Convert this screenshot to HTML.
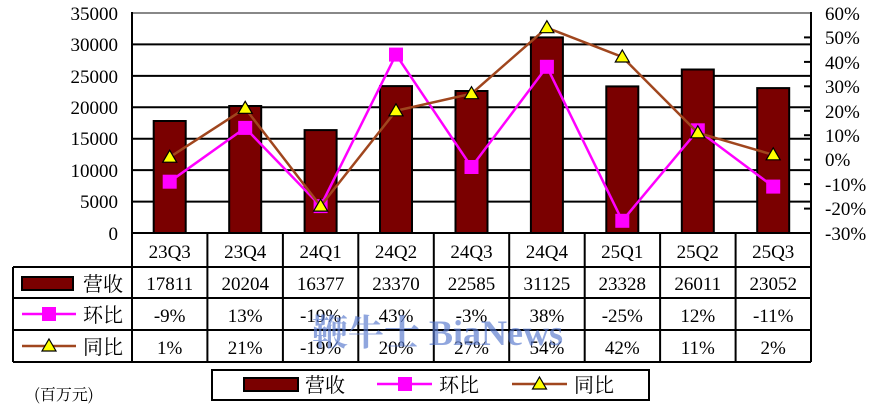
<!DOCTYPE html>
<html><head><meta charset="utf-8"><style>
html,body{margin:0;padding:0;background:#fff;}
svg{display:block;font-family:"Liberation Serif","Noto Serif CJK SC","Noto Sans CJK SC",serif;}
</style></head><body>
<svg width="892" height="416" viewBox="0 0 892 416" xmlns="http://www.w3.org/2000/svg">
<rect width="892" height="416" fill="#fff"/>
<g stroke="#000" stroke-width="2">
<line x1="132" y1="201.6" x2="811" y2="201.6"/>
<line x1="132" y1="170.1" x2="811" y2="170.1"/>
<line x1="132" y1="138.7" x2="811" y2="138.7"/>
<line x1="132" y1="107.3" x2="811" y2="107.3"/>
<line x1="132" y1="75.9" x2="811" y2="75.9"/>
<line x1="132" y1="44.4" x2="811" y2="44.4"/>
</g>
<line x1="132" y1="13" x2="811" y2="13" stroke="#888" stroke-width="2"/>
<g fill="#7a0000" stroke="#000" stroke-width="2">
<rect x="153.7" y="121.0" width="32" height="112"/>
<rect x="229.2" y="106.0" width="32" height="127"/>
<rect x="304.6" y="130.1" width="32" height="102.9"/>
<rect x="380.0" y="86.1" width="32" height="146.9"/>
<rect x="455.5" y="91.0" width="32" height="142"/>
<rect x="530.9" y="37.4" width="32" height="195.6"/>
<rect x="606.3" y="86.4" width="32" height="146.6"/>
<rect x="681.8" y="69.5" width="32" height="163.5"/>
<rect x="757.2" y="88.1" width="32" height="144.9"/>
</g>
<line x1="132" y1="12" x2="132" y2="234" stroke="#000" stroke-width="2"/>
<line x1="811" y1="12" x2="811" y2="234" stroke="#000" stroke-width="2"/>
<g stroke="#000" stroke-width="2">
<line x1="804" y1="37.4" x2="811" y2="37.4"/><line x1="804" y1="61.9" x2="811" y2="61.9"/>
<line x1="804" y1="86.3" x2="811" y2="86.3"/><line x1="804" y1="110.8" x2="811" y2="110.8"/>
<line x1="804" y1="135.2" x2="811" y2="135.2"/><line x1="804" y1="159.7" x2="811" y2="159.7"/>
<line x1="804" y1="184.1" x2="811" y2="184.1"/><line x1="804" y1="208.6" x2="811" y2="208.6"/>
</g>
<polyline fill="none" stroke="#ff00ff" stroke-width="2.5" points="169.7,181.7 245.2,127.9 320.6,206.1 396,54.6 471.5,167 546.9,66.8 622.3,220.8 697.8,130.3 773.2,186.6"/>
<g fill="#ff00ff">
<rect x="162.7" y="174.7" width="14" height="14"/><rect x="238.2" y="120.9" width="14" height="14"/>
<rect x="313.6" y="199.1" width="14" height="14"/><rect x="389" y="47.6" width="14" height="14"/>
<rect x="464.5" y="160" width="14" height="14"/><rect x="539.9" y="59.8" width="14" height="14"/>
<rect x="615.3" y="213.8" width="14" height="14"/><rect x="690.8" y="123.3" width="14" height="14"/>
<rect x="766.2" y="179.6" width="14" height="14"/>
</g>
<polyline fill="none" stroke="#a0461e" stroke-width="2.5" points="169.7,157.2 245.2,108.3 320.6,206.1 396,110.8 471.5,93.7 546.9,27.7 622.3,57 697.8,132.8 773.2,154.8"/>
<g fill="#ffff00" stroke="#000" stroke-width="1.2">
<path d="M169.7,150.2 l7,12 h-14z"/><path d="M245.2,101.3 l7,12 h-14z"/>
<path d="M320.6,199.1 l7,12 h-14z"/><path d="M396,103.8 l7,12 h-14z"/>
<path d="M471.5,86.7 l7,12 h-14z"/><path d="M546.9,20.7 l7,12 h-14z"/>
<path d="M622.3,50 l7,12 h-14z"/><path d="M697.8,125.8 l7,12 h-14z"/>
<path d="M773.2,147.8 l7,12 h-14z"/>
</g>
<g font-size="19" text-anchor="end" fill="#000">
<text x="118" y="20">35000</text><text x="118" y="51">30000</text><text x="118" y="83">25000</text>
<text x="118" y="114">20000</text><text x="118" y="145">15000</text><text x="118" y="177">10000</text>
<text x="118" y="208">5000</text><text x="118" y="240">0</text>
</g>
<g font-size="19" fill="#000">
<text x="825" y="20">60%</text><text x="825" y="44">50%</text><text x="825" y="69">40%</text>
<text x="825" y="93">30%</text><text x="825" y="118">20%</text><text x="825" y="142">10%</text>
<text x="825" y="166">0%</text><text x="825" y="191">-10%</text><text x="825" y="215">-20%</text>
<text x="825" y="240">-30%</text>
</g>
<g stroke="#000" stroke-width="2">
<line x1="132" y1="233" x2="811" y2="233"/>
<line x1="13" y1="267" x2="811" y2="267"/>
<line x1="13" y1="298" x2="811" y2="298"/>
<line x1="13" y1="330" x2="811" y2="330"/>
<line x1="13" y1="362" x2="811" y2="362"/>
<line x1="13" y1="267" x2="13" y2="362"/>
<line x1="132" y1="233" x2="132" y2="362"/>
<line x1="207.4" y1="233" x2="207.4" y2="362"/><line x1="282.9" y1="233" x2="282.9" y2="362"/>
<line x1="358.3" y1="233" x2="358.3" y2="362"/><line x1="433.8" y1="233" x2="433.8" y2="362"/>
<line x1="509.2" y1="233" x2="509.2" y2="362"/><line x1="584.7" y1="233" x2="584.7" y2="362"/>
<line x1="660.1" y1="233" x2="660.1" y2="362"/><line x1="735.6" y1="233" x2="735.6" y2="362"/>
<line x1="811" y1="233" x2="811" y2="362"/>
</g>
<g font-size="19" text-anchor="middle" fill="#000">
<text x="169.7" y="258">23Q3</text><text x="245.2" y="258">23Q4</text><text x="320.6" y="258">24Q1</text><text x="396" y="258">24Q2</text><text x="471.5" y="258">24Q3</text><text x="546.9" y="258">24Q4</text><text x="622.3" y="258">25Q1</text><text x="697.8" y="258">25Q2</text><text x="773.2" y="258">25Q3</text>
<text x="169.7" y="290">17811</text><text x="245.2" y="290">20204</text><text x="320.6" y="290">16377</text><text x="396" y="290">23370</text><text x="471.5" y="290">22585</text><text x="546.9" y="290">31125</text><text x="622.3" y="290">23328</text><text x="697.8" y="290">26011</text><text x="773.2" y="290">23052</text>
<text x="169.7" y="322">-9%</text><text x="245.2" y="322">13%</text><text x="320.6" y="322">-19%</text><text x="396" y="322">43%</text><text x="471.5" y="322">-3%</text><text x="546.9" y="322">38%</text><text x="622.3" y="322">-25%</text><text x="697.8" y="322">12%</text><text x="773.2" y="322">-11%</text>
<text x="169.7" y="354">1%</text><text x="245.2" y="354">21%</text><text x="320.6" y="354">-19%</text><text x="396" y="354">20%</text><text x="471.5" y="354">27%</text><text x="546.9" y="354">54%</text><text x="622.3" y="354">42%</text><text x="697.8" y="354">11%</text><text x="773.2" y="354">2%</text>
</g>
<rect x="22" y="277" width="51" height="13" fill="#7a0000" stroke="#000" stroke-width="2"/>
<line x1="22" y1="314" x2="76" y2="314" stroke="#ff00ff" stroke-width="2.5"/>
<rect x="42" y="307" width="14" height="14" fill="#ff00ff"/>
<line x1="22" y1="346" x2="76" y2="346" stroke="#a0461e" stroke-width="2.5"/>
<path d="M49,339 l7,12 h-14z" fill="#ffff00" stroke="#000" stroke-width="1.2"/>
<g font-size="20" fill="#000" font-family="'Noto Serif CJK SC','Noto Sans CJK SC',serif">
<text x="83" y="291">营收</text><text x="83" y="322">环比</text><text x="83" y="354">同比</text>
</g>
<text x="312" y="345" font-size="36" font-weight="bold" fill="#5577cc" fill-opacity="0.65" font-family="'Liberation Serif','Noto Serif CJK SC',serif">鞭牛士 BiaNews</text>
<rect x="212" y="370" width="437" height="30" fill="none" stroke="#000" stroke-width="2"/>
<rect x="244" y="378" width="54" height="13" fill="#7a0000" stroke="#000" stroke-width="2"/>
<line x1="377" y1="384" x2="432" y2="384" stroke="#ff00ff" stroke-width="2.5"/>
<rect x="398" y="377" width="14" height="14" fill="#ff00ff"/>
<line x1="512" y1="384" x2="567" y2="384" stroke="#a0461e" stroke-width="2.5"/>
<path d="M539.5,377 l7,12 h-14z" fill="#ffff00" stroke="#000" stroke-width="1.2"/>
<g font-size="20" fill="#000" font-family="'Noto Serif CJK SC','Noto Sans CJK SC',serif">
<text x="305" y="392">营收</text><text x="439" y="392">环比</text><text x="574" y="392">同比</text>
<text x="34" y="400" font-size="16">(百万元)</text>
</g>
</svg>
</body></html>
